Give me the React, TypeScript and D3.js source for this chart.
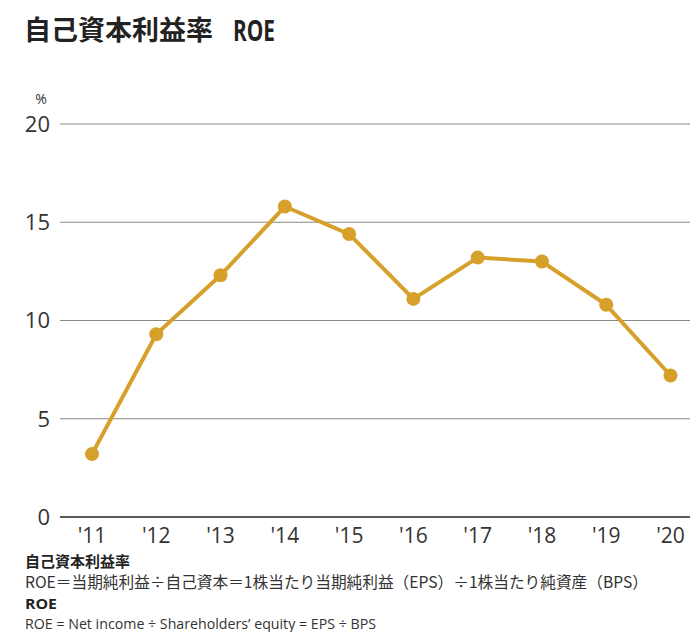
import React from "react";
import * as d3 from "d3";

const years = ["'11", "'12", "'13", "'14", "'15", "'16", "'17", "'18", "'19", "'20"];
const roe = [3.2, 9.3, 12.3, 15.8, 14.4, 11.1, 13.2, 13.0, 10.8, 7.2];
const yTicks = [0, 5, 10, 15, 20];

const W = 690;
const H = 632;
const gold = "#D6A02B";
const textColor = "#333";
const sans = "'Open Sans', 'Noto Sans', sans-serif";
const cjk = "'Noto Sans CJK JP', 'Noto Sans', sans-serif";

export default function App() {
  const x = d3.scalePoint<string>().domain(years).range([92, 670.5]).padding(0);
  const y = d3.scaleLinear().domain([0, 20]).range([517, 124]);
  const line = d3
    .line<number>()
    .x((_, i) => x(years[i]) as number)
    .y((d) => y(d));

  return (
    <svg
      width={W}
      height={H}
      style={{ position: "absolute", left: 0, top: 0, background: "#fff" }}
    >
      <text x={24} y={40} fontFamily={cjk} fontWeight={700} fontSize={27} fill="#222">
        自己資本利益率
      </text>
      <text
        x={233}
        y={41}
        fontFamily={sans}
        fontWeight={700}
        fontSize={29}
        fill="#222"
        textLength={42}
        lengthAdjust="spacingAndGlyphs"
      >
        ROE
      </text>
      <text x={41} y={104} textAnchor="middle" fontFamily={sans} fontSize={14} fill={textColor}>
        %
      </text>
      {yTicks.map((t) => (
        <g key={t}>
          <line
            x1={60}
            x2={W}
            y1={y(t)}
            y2={y(t)}
            stroke={t === 0 ? "#222" : "#888"}
            strokeWidth={t === 0 ? 1.6 : 1}
          />
          <text
            x={50}
            y={y(t)}
            dy="0.36em"
            textAnchor="end"
            fontFamily={sans}
            fontSize={22}
            fill={textColor}
          >
            {t}
          </text>
        </g>
      ))}
      {years.map((yr) => (
        <text
          key={yr}
          x={x(yr)}
          y={543}
          textAnchor="middle"
          fontFamily={sans}
          fontSize={21}
          fill={textColor}
        >
          {yr}
        </text>
      ))}
      <path d={line(roe) || ""} fill="none" stroke={gold} strokeWidth={4} strokeLinejoin="round" />
      {roe.map((v, i) => (
        <circle key={i} cx={x(years[i])} cy={y(v)} r={7} fill={gold} />
      ))}
      <text x={25} y={567} fontFamily={cjk} fontWeight={700} fontSize={15} fill="#222">
        自己資本利益率
      </text>
      <text
        x={25}
        y={588}
        fontFamily={cjk}
        fontSize={16}
        fill={textColor}
        textLength={623}
        lengthAdjust="spacingAndGlyphs"
      >
        ROE＝当期純利益÷自己資本＝1株当たり当期純利益（EPS）÷1株当たり純資産（BPS）
      </text>
      <text
        x={25}
        y={609}
        fontFamily={sans}
        fontWeight={700}
        fontSize={14}
        fill="#222"
        textLength={32}
        lengthAdjust="spacingAndGlyphs"
      >
        ROE
      </text>
      <text
        x={25}
        y={629}
        fontFamily={sans}
        fontSize={14}
        fill={textColor}
        textLength={351}
        lengthAdjust="spacingAndGlyphs"
      >
        ROE = Net income ÷ Shareholders’ equity = EPS ÷ BPS
      </text>
    </svg>
  );
}
